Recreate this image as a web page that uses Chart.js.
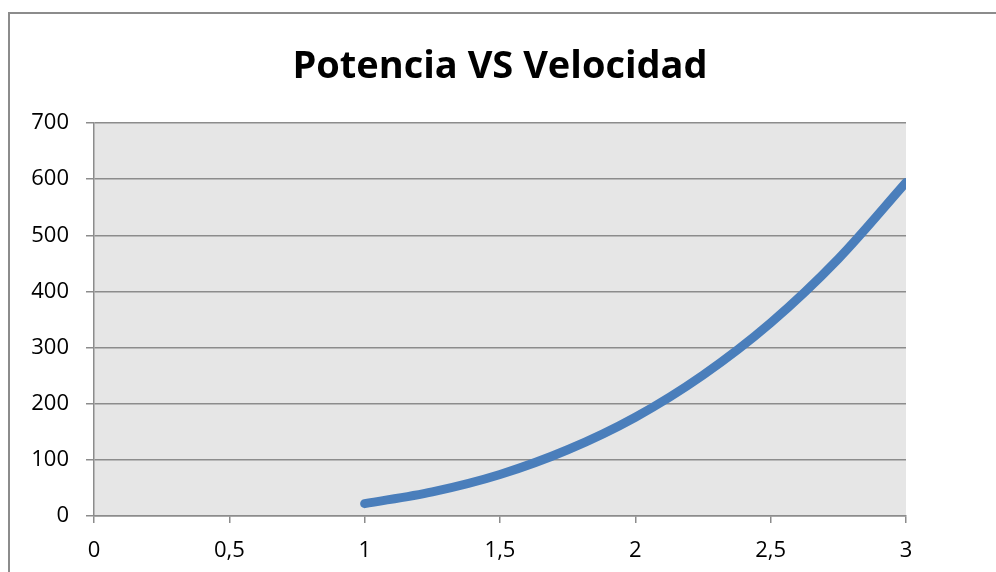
<!DOCTYPE html>
<html>
<head>
<meta charset="utf-8">
<script src="https://cdn.jsdelivr.net/npm/chart.js@4/dist/chart.umd.min.js"></script>
<style>
  html, body { margin: 0; padding: 0; background: #fff; overflow: hidden; }
  #wrap { position: relative; width: 996px; height: 572px; }
  #frame {
    position: absolute; left: 8px; top: 12px; width: 1100px; height: 700px;
    border-left: 2px solid #8c8c8c; border-top: 2px solid #8c8c8c;
    box-sizing: border-box; pointer-events: none;
  }
  #box { position: absolute; left: 0; top: 0; width: 996px; height: 572px; }
</style>
</head>
<body>
<div id="wrap">
  <div id="frame"></div>
  <div id="box"><canvas id="chart" width="996" height="572"></canvas></div>
</div>
<script>
// Velocidad (m/s) y potencia correspondiente (W)
const velocidad = [1, 1.25, 1.5, 1.75, 2, 2.25, 2.5, 2.75, 3];
const potencia  = [22, 43, 74, 118, 176, 251, 344, 458, 594];

// Marcas de los ejes
const xTicks = [0, 0.5, 1, 1.5, 2, 2.5, 3];
const yTicks = [0, 100, 200, 300, 400, 500, 600, 700];

const titulo = 'Potencia VS Velocidad';

const puntos = velocidad.map((v, i) => ({ x: v, y: potencia[i] }));

// Fondo gris del área de trazado
const fondoArea = {
  id: 'fondoArea',
  beforeDraw(chart) {
    const { ctx, chartArea: a } = chart;
    ctx.save();
    ctx.fillStyle = '#e6e6e6';
    ctx.fillRect(a.left, a.top, a.right - a.left, a.bottom - a.top);
    ctx.restore();
  }
};

const fuente = "'Open Sans', Lato, sans-serif";

new Chart(document.getElementById('chart'), {
  type: 'line',
  data: {
    datasets: [{
      data: puntos,
      borderColor: '#4a7ebb',
      borderWidth: 9,
      borderCapStyle: 'round',
      borderJoinStyle: 'round',
      cubicInterpolationMode: 'monotone',
      pointRadius: 0,
      pointHoverRadius: 0,
      fill: false
    }]
  },
  options: {
    responsive: false,
    animation: false,
    events: [],
    layout: { padding: { left: 30, right: 90, top: 0, bottom: 9 } },
    plugins: {
      legend: { display: false },
      tooltip: { enabled: false },
      title: {
        display: true,
        fullSize: false,
        text: titulo,
        color: '#000',
        font: { family: fuente, size: 38, weight: 'bold', lineHeight: 1.2 },
        padding: { top: 44, bottom: 33.4 }
      }
    },
    scales: {
      x: {
        type: 'linear',
        min: xTicks[0],
        max: xTicks[xTicks.length - 1],
        afterBuildTicks(axis) { axis.ticks = xTicks.map(v => ({ value: v })); },
        afterFit(axis) { axis.height = 47; },
        border: { display: true, color: '#8c8c8c', width: 1.5 },
        grid: { drawOnChartArea: false, drawTicks: true, tickLength: 7, color: '#8c8c8c', lineWidth: 1.5 },
        ticks: {
          padding: 15,
          color: '#000',
          font: { family: fuente, size: 22 },
          maxRotation: 0,
          callback: v => String(v).replace('.', ',')
        }
      },
      y: {
        min: yTicks[0],
        max: yTicks[yTicks.length - 1],
        afterBuildTicks(axis) { axis.ticks = yTicks.map(v => ({ value: v })); },
        afterFit(axis) { axis.width = 64; },
        border: { display: true, color: '#8c8c8c', width: 1.5 },
        grid: { drawTicks: true, tickLength: 8, color: '#8c8c8c', lineWidth: 1.5 },
        ticks: {
          padding: 17,
          color: '#000',
          font: { family: fuente, size: 22 }
        }
      }
    }
  },
  plugins: [fondoArea]
});
</script>
</body>
</html>
